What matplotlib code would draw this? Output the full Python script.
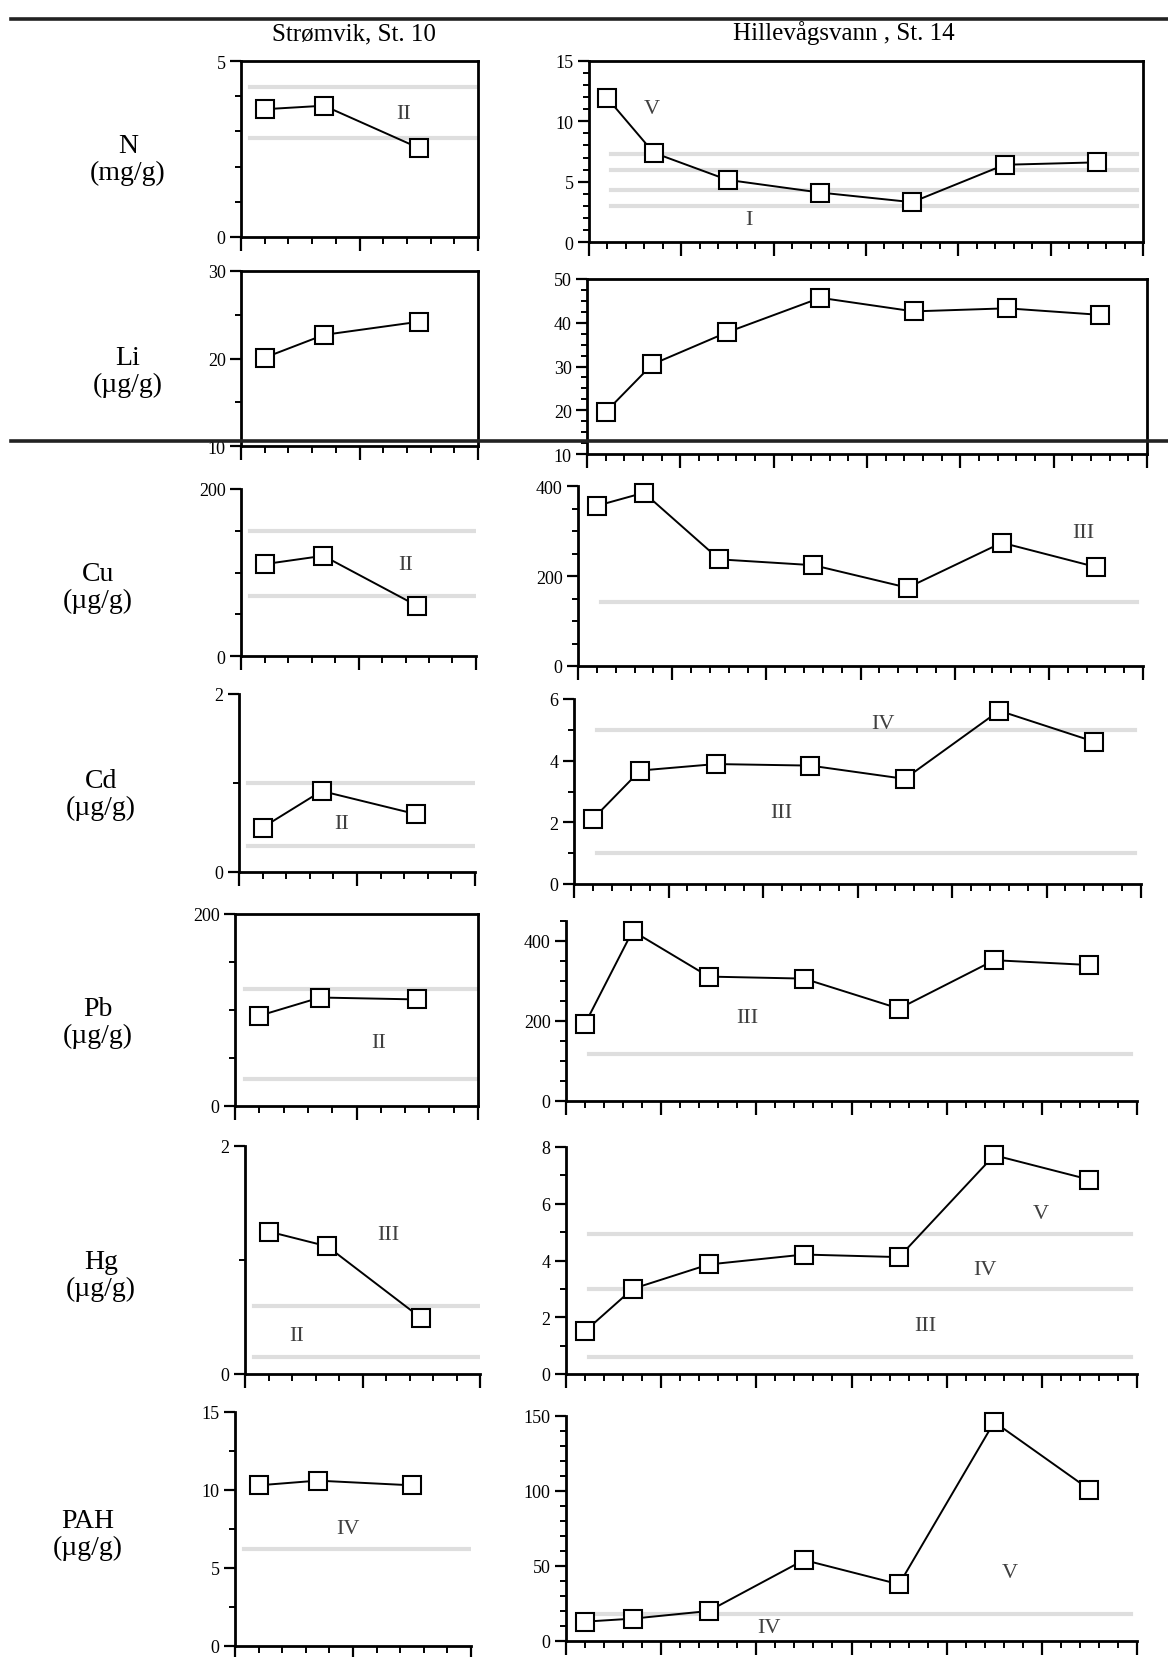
import matplotlib
matplotlib.use('Agg')
import matplotlib.pyplot as plt
from matplotlib.lines import Line2D
from matplotlib.ticker import MultipleLocator, FixedLocator, FuncFormatter, NullFormatter

plt.rcParams['font.family'] = ['Liberation Serif', 'DejaVu Serif']

W, H = 1168, 1658

# ---------------- data ----------------
X = [0.2, 0.7, 1.5, 2.5, 3.5, 4.5, 5.5]

N_st10 = [3.63, 3.73, 2.53]
Li_st10 = [20.1, 22.7, 24.2]
Cu_st10 = [110, 120, 60]
Cd_st10 = [0.50, 0.91, 0.65]
Pb_st10 = [94, 113, 111]
Hg_st10 = [1.25, 1.12, 0.49]
PAH_st10 = [10.3, 10.6, 10.3]

N_st14 = [11.9, 7.4, 5.15, 4.1, 3.3, 6.4, 6.6]
Li_st14 = [19.6, 30.5, 37.8, 45.7, 42.6, 43.3, 41.8]
Cu_st14 = [356, 385, 237, 224, 174, 274, 220]
Cd_st14 = [2.11, 3.68, 3.89, 3.84, 3.41, 5.62, 4.62]
Pb_st14 = [193, 425, 311, 306, 231, 352, 340]
Hg_st14 = [1.51, 3.0, 3.86, 4.21, 4.12, 7.71, 6.85]
PAH_st14 = [12.9, 14.9, 20, 54, 37.8, 146, 101]

# class boundaries (grey lines)
cls_st10 = {'N': [2.8, 4.25], 'Li': [], 'Cu': [72, 150], 'Cd': [0.29, 1.0],
            'Pb': [28, 122], 'Hg': [0.15, 0.6], 'PAH': [6.2]}
cls_st14 = {'N': [3.0, 4.3, 6.0, 7.3], 'Li': [], 'Cu': [143], 'Cd': [1.0, 5.0],
            'Pb': [117], 'Hg': [0.6, 3.0, 4.95], 'PAH': [18]}

# class labels (x, y, text)
lab_st10 = {'N': [(1.37, 3.5, 'II')], 'Li': [], 'Cu': [(1.40, 110, 'II')],
            'Cd': [(0.87, 0.54, 'II')], 'Pb': [(1.18, 66, 'II')],
            'Hg': [(1.22, 1.22, 'III'), (0.44, 0.34, 'II')], 'PAH': [(0.96, 7.5, 'IV')]}
lab_st14 = {'N': [(0.68, 11.1, 'V'), (1.73, 1.9, 'I')], 'Li': [],
            'Cu': [(5.37, 296, 'III')],
            'Cd': [(3.27, 5.19, 'IV'), (2.19, 2.32, 'III')],
            'Pb': [(1.90, 208, 'III')],
            'Hg': [(4.99, 5.65, 'V'), (4.40, 3.7, 'IV'), (3.78, 1.7, 'III')],
            'PAH': [(4.66, 45.5, 'V'), (2.13, 8.9, 'IV')]}

params = ['N', 'Li', 'Cu', 'Cd', 'Pb', 'Hg', 'PAH']
units = ['(mg/g)', '(µg/g)', '(µg/g)', '(µg/g)', '(µg/g)', '(µg/g)', '(µg/g)']
st10 = [N_st10, Li_st10, Cu_st10, Cd_st10, Pb_st10, Hg_st10, PAH_st10]
st14 = [N_st14, Li_st14, Cu_st14, Cd_st14, Pb_st14, Hg_st14, PAH_st14]

# y-axis settings: (ylim, major ticks, minor step)
yax10 = [((0, 5), [0, 5], 1), ((10, 30), [10, 20, 30], 5), ((0, 200), [0, 200], 50),
         ((0, 2), [0, 2], 1), ((0, 200), [0, 200], 50), ((0, 2), [0, 2], 1),
         ((0, 15), [0, 5, 10, 15], 2.5)]
yax14 = [((0, 15), [0, 5, 10, 15], 1), ((10, 50), [10, 20, 30, 40, 50], 2.5),
         ((0, 400), [0, 200, 400], 50), ((0, 6), [0, 2, 4, 6], 1),
         ((0, 450), [0, 200, 400], 50), ((0, 8), [0, 2, 4, 6, 8], 1),
         ((0, 150), [0, 50, 100, 150], 10)]

# ---------------- layout (pixel boxes: x0, x1, y_top, y_bottom) ----------------
box10 = [(241, 478, 62, 238), (241, 478, 272, 447), (241, 476, 490, 657),
         (239, 475, 695, 873), (235, 478, 915, 1107), (245, 480, 1147, 1375),
         (235, 471, 1413, 1647)]
box14 = [(589, 1143, 62, 243), (587, 1147, 280, 455), (578, 1143, 487, 667),
         (574, 1141, 700, 885), (566, 1137, 922, 1102), (566, 1137, 1148, 1375),
         (566, 1137, 1417, 1642)]
full10 = [True, True, False, False, True, False, False]
full14 = [True, True, False, False, False, False, False]
rowlab = [(128, 160), (128, 372), (98, 588), (101, 795), (98, 1023), (101, 1276), (88, 1535)]

fig = plt.figure(figsize=(W / 100, H / 100), dpi=100)
fig.patch.set_facecolor('white')

fmt = FuncFormatter(lambda v, p: '%g' % v)
GREY = '#dedede'


def panel(box, xmax, xs, ys, yset, fullbox, cls, labs):
    x0, x1, yt, yb = box
    ax = fig.add_axes([x0 / W, 1 - yb / H, (x1 - x0) / W, (yb - yt) / H])
    ax.set_xlim(0, xmax)
    ax.set_ylim(*yset[0])
    ax.yaxis.set_major_locator(FixedLocator(yset[1]))
    ax.yaxis.set_minor_locator(MultipleLocator(yset[2]))
    ax.yaxis.set_major_formatter(fmt)
    ax.xaxis.set_major_locator(MultipleLocator(1))
    ax.xaxis.set_minor_locator(MultipleLocator(0.2))
    ax.xaxis.set_major_formatter(NullFormatter())
    ax.tick_params(axis='y', which='major', direction='out', length=8, width=1.6,
                   labelsize=13, pad=3)
    ax.tick_params(axis='y', which='minor', direction='out', length=4, width=1.4)
    ax.tick_params(axis='x', which='major', direction='out', length=10, width=1.6)
    ax.tick_params(axis='x', which='minor', direction='out', length=5, width=1.4)
    ax.tick_params(top=False, right=False)
    for s in ax.spines.values():
        s.set_linewidth(2.0)
    if not fullbox:
        ax.spines['top'].set_visible(False)
        ax.spines['right'].set_visible(False)
    for c in cls:
        ax.axhline(c, xmin=0.04, xmax=0.99, color=GREY, lw=3, zorder=1)
    for (lx, ly, t) in labs:
        ax.text(lx, ly, t, fontsize=16, color='#404040', ha='center', va='center')
    ax.plot(xs[:len(ys)], ys, color='black', lw=1.4, marker='s', markersize=12.5,
            markerfacecolor='white', markeredgecolor='black', markeredgewidth=1.5,
            clip_on=False, zorder=3)
    return ax


for i, p in enumerate(params):
    panel(box10[i], 2, X, st10[i], yax10[i], full10[i], cls_st10[p], lab_st10[p])
    panel(box14[i], 6, X, st14[i], yax14[i], full14[i], cls_st14[p], lab_st14[p])
    lx, ly = rowlab[i]
    fig.text(lx / W, 1 - ly / H, p + '\n' + units[i], fontsize=20, ha='center',
             va='center', linespacing=1.05)

fig.text(354 / W, 1 - 34 / H, 'Strømvik, St. 10', fontsize=18, ha='center', va='center')
fig.text(844 / W, 1 - 33 / H, 'Hillevågsvann , St. 14', fontsize=18, ha='center', va='center')

for yl in (20, 442):
    fig.add_artist(Line2D([11 / W, 1.0], [1 - yl / H, 1 - yl / H], transform=fig.transFigure,
                          color='#222222', lw=2.6, zorder=10))

fig.savefig('out.png', dpi=100, facecolor='white')
